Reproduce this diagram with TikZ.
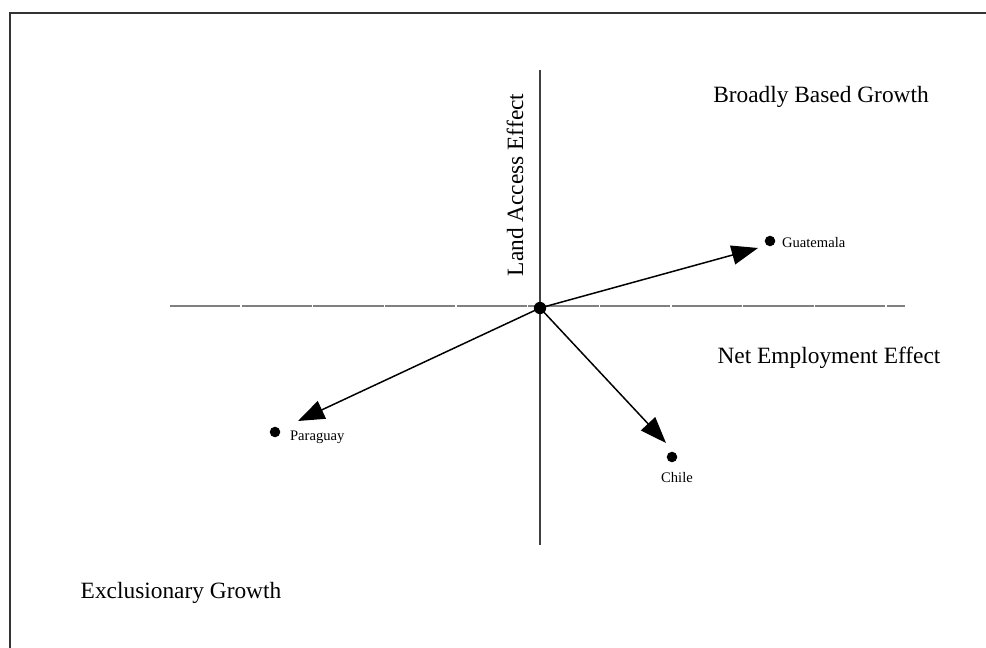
\documentclass[tikz,border=0pt]{standalone}
\usepackage{fontspec}
\setmainfont{Liberation Serif}
\usetikzlibrary{arrows.meta}

\begin{document}
\begin{tikzpicture}[x=0.02cm, y=-0.02cm,
  font={\fontsize{13.3pt}{15}\selectfont},
  dot/.style={circle, fill=black, inner sep=0pt, minimum size=6pt},
  axis/.style={black!75, line width=0.75},
  effect/.style={line width=0.85, arrows={-{Triangle}[width=11pt,length=15pt]}},
  country/.style={font={\fontsize{8.3pt}{10}\selectfont}, inner sep=1pt}
  ]
  \useasboundingbox (0,0) rectangle (986,648);
  \clip (0,0) rectangle (986,648);
  \draw[black!80, line width=1.1] (10,13) rectangle (1000,660);

  % axes
  \draw[axis] (540,70) -- (540,545);
  \draw[black!50, line width=0.6, dash pattern=on 40pt off 0.8pt] (170,306) -- (905,306);

  \node[rotate=90] (land) at (515,185) {Land Access Effect};
  \node (net) at (829,358) {Net Employment Effect};
  \node (broad) at (821,97) {Broadly Based Growth};
  \node (excl) at (181,593) {Exclusionary Growth};

  % countries
  \node[dot, minimum size=7pt] (o) at (540,308) {};
  \node[dot] (gua) at (770,241) {};
  \node[dot] (chi) at (672,457) {};
  \node[dot] (par) at (275,432) {};
  \node[country, anchor=west] (gualbl) at (780,243) {Guatemala};
  \node[country] (chilbl) at (677,478) {Chile};
  \node[country, anchor=west] (parlbl) at (288,437) {Paraguay};

  \coordinate (guatip) at (758,248);
  \coordinate (chitip) at (666,443);
  \coordinate (partip) at (298,421);
  \draw[effect] (o.center) -- (guatip);
  \draw[effect] (o.center) -- (chitip);
  \draw[effect] (o.center) -- (partip);
\end{tikzpicture}
\end{document}
